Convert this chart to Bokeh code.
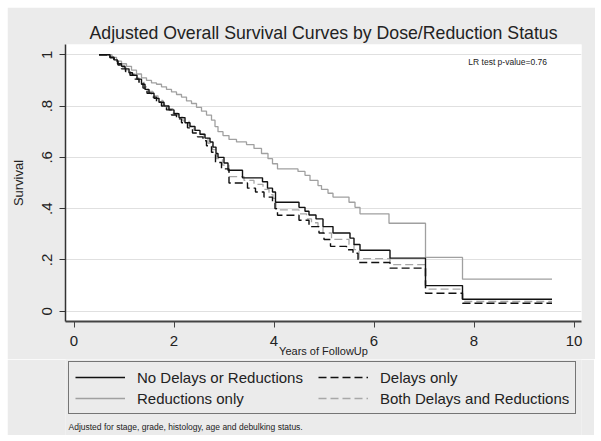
from bokeh.plotting import figure
from bokeh.layouts import column
from bokeh.models import Range1d, FixedTicker, Legend, LegendItem, Label
from bokeh.embed import file_html
from bokeh.resources import INLINE

# ---------------- data ----------------
title_text = "Adjusted Overall Survival Curves by Dose/Reduction Status"
x_ticks = [0, 2, 4, 6, 8, 10]
y_ticks = [0, 0.2, 0.4, 0.6, 0.8, 1.0]
y_tick_labels = ["0", ".2", ".4", ".6", ".8", "1"]

# No Delays or Reductions (black solid)
none_t = [0.50, 0.72, 0.80, 0.87, 0.95, 1.02, 1.10, 1.17, 1.26, 1.35, 1.42, 1.50, 1.60, 1.70,
          1.80, 1.90, 2.00, 2.10, 2.22, 2.32, 2.42, 2.52, 2.62, 2.72, 2.78, 2.84, 2.88, 3.00,
          3.08, 3.37, 3.77, 3.87, 3.97, 4.03, 4.50, 4.62, 4.70, 4.84, 4.98, 5.18, 5.52, 5.60,
          5.72, 6.32, 7.03, 7.77, 9.56]
none_s = [1.000, 0.990, 0.980, 0.965, 0.955, 0.945, 0.930, 0.920, 0.905, 0.885, 0.865, 0.850,
          0.830, 0.815, 0.800, 0.785, 0.770, 0.755, 0.735, 0.720, 0.705, 0.690, 0.675, 0.660,
          0.640, 0.615, 0.600, 0.578, 0.550, 0.520, 0.505, 0.480, 0.465, 0.425, 0.405, 0.390,
          0.375, 0.360, 0.330, 0.305, 0.285, 0.260, 0.238, 0.207, 0.100, 0.047, 0.047]

# Delays only (black dashed)
delay_t = [0.50, 0.72, 0.80, 0.88, 0.95, 1.03, 1.12, 1.20, 1.30, 1.38, 1.46, 1.55, 1.65, 1.75,
           1.85, 1.95, 2.05, 2.15, 2.27, 2.37, 2.47, 2.58, 2.65, 2.75, 2.83, 2.95, 3.10, 3.47,
           3.63, 3.80, 3.97, 4.02, 4.07, 4.50, 4.70, 4.90, 5.00, 5.13, 5.45, 5.58, 5.68, 6.32,
           7.03, 7.77, 9.56]
delay_s = [1.000, 0.988, 0.975, 0.960, 0.945, 0.935, 0.920, 0.905, 0.890, 0.870, 0.850, 0.835,
           0.815, 0.800, 0.785, 0.765, 0.750, 0.735, 0.715, 0.695, 0.680, 0.665, 0.645, 0.620,
           0.580, 0.555, 0.500, 0.480, 0.465, 0.445, 0.425, 0.400, 0.374, 0.355, 0.330, 0.305,
           0.280, 0.253, 0.240, 0.226, 0.190, 0.168, 0.070, 0.031, 0.031]

# Reductions only (gray solid)
red_t = [0.50, 0.76, 0.85, 0.95, 1.05, 1.15, 1.25, 1.35, 1.45, 1.55, 1.65, 1.75, 1.85, 1.95,
         2.05, 2.15, 2.25, 2.35, 2.45, 2.55, 2.65, 2.75, 2.82, 2.88, 2.98, 3.10, 3.25, 3.45,
         3.60, 3.75, 3.88, 3.97, 4.07, 4.48, 4.62, 4.72, 4.88, 4.95, 5.08, 5.18, 5.50, 5.62,
         5.72, 6.30, 7.03, 7.77, 9.56]
red_s = [1.000, 0.990, 0.975, 0.965, 0.955, 0.940, 0.925, 0.910, 0.900, 0.890, 0.885, 0.875,
         0.865, 0.855, 0.845, 0.835, 0.820, 0.810, 0.795, 0.780, 0.765, 0.745, 0.720, 0.700,
         0.685, 0.670, 0.660, 0.650, 0.635, 0.615, 0.595, 0.575, 0.555, 0.545, 0.530, 0.510,
         0.490, 0.475, 0.460, 0.445, 0.425, 0.405, 0.380, 0.343, 0.210, 0.125, 0.125]

# Both Delays and Reductions (gray dashed)
both_t = [0.50, 0.72, 0.80, 0.88, 0.96, 1.04, 1.13, 1.22, 1.30, 1.40, 1.48, 1.58, 1.68, 1.78,
          1.88, 1.98, 2.08, 2.18, 2.30, 2.40, 2.50, 2.60, 2.68, 2.77, 2.85, 2.97, 3.10, 3.40,
          3.60, 3.78, 3.90, 3.98, 4.04, 4.50, 4.65, 4.75, 4.88, 4.98, 5.15, 5.50, 5.60, 5.70,
          6.32, 7.03, 7.77, 9.56]
both_s = [1.000, 0.990, 0.978, 0.963, 0.950, 0.940, 0.925, 0.910, 0.895, 0.875, 0.857, 0.840,
          0.822, 0.806, 0.790, 0.772, 0.757, 0.742, 0.722, 0.705, 0.690, 0.674, 0.655, 0.630,
          0.595, 0.570, 0.525, 0.510, 0.495, 0.475, 0.455, 0.440, 0.395, 0.380, 0.360, 0.345,
          0.330, 0.305, 0.280, 0.260, 0.240, 0.205, 0.182, 0.086, 0.038, 0.038]

series_names = ["No Delays or Reductions", "Delays only", "Reductions only",
                "Both Delays and Reductions"]
series_t = [none_t, delay_t, red_t, both_t]
series_s = [none_s, delay_s, red_s, both_s]
footnote = "Adjusted for stage, grade, histology, age and debulking status."
lr_text = "LR test p-value=0.76"

# ---------------- styles ----------------
BG = "#ebebeb"
FONT = "Liberation Sans"
TXT = "#222222"
styles = [dict(line_color="#111111", line_width=1.4),
          dict(line_color="#111111", line_width=1.4, line_dash="8 4"),
          dict(line_color="#a0a0a0", line_width=1.3),
          dict(line_color="#a8a8a8", line_width=1.3, line_dash="8 4")]

# ---------------- main plot ----------------
p = figure(frame_width=516, frame_height=277, output_backend="svg", toolbar_location=None,
           x_range=Range1d(-0.17, 10.15), y_range=Range1d(-0.04, 1.04),
           min_border_left=57, min_border_right=14, min_border_top=37, min_border_bottom=37,
           background_fill_color="white", border_fill_color=BG, outline_line_color=None)
p.margin = (7, 7, 0, 7)

p.title.text = title_text
p.title.align = "center"
p.title.text_font = FONT
p.title.text_font_size = "17.7px"
p.title.text_font_style = "normal"
p.title.text_color = TXT
p.title.standoff = 4

xa = p.xaxis[0]
xa.ticker = FixedTicker(ticks=x_ticks)
xa.axis_label = "Years of FollowUp"
xa.axis_label_text_font = FONT
xa.axis_label_text_font_size = "11px"
xa.axis_label_text_font_style = "normal"
xa.axis_label_text_color = TXT
xa.axis_label_standoff = -4
xa.major_label_text_font = FONT
xa.major_label_text_font_size = "15px"
xa.major_label_text_color = TXT
xa.major_label_standoff = 8
xa.major_tick_out = 6
xa.major_tick_in = 0
xa.minor_tick_out = 0
xa.minor_tick_in = 0
xa.axis_line_width = 2
xa.axis_line_color = "#444444"
xa.major_tick_line_color = "#444444"

ya = p.yaxis[0]
ya.ticker = FixedTicker(ticks=y_ticks)
ya.major_label_overrides = {v: s for v, s in zip(y_ticks, y_tick_labels)}
ya.major_label_orientation = "vertical"
ya.axis_label = "Survival"
ya.axis_label_text_font = FONT
ya.axis_label_text_font_size = "13px"
ya.axis_label_text_font_style = "normal"
ya.axis_label_text_color = TXT
ya.axis_label_standoff = 14
ya.major_label_text_font = FONT
ya.major_label_text_font_size = "15px"
ya.major_label_text_color = TXT
ya.major_label_standoff = 7
ya.major_tick_out = 6
ya.major_tick_in = 0
ya.minor_tick_out = 0
ya.minor_tick_in = 0
ya.axis_line_width = 1.5
ya.axis_line_color = "#333333"
ya.major_tick_line_color = "#333333"

p.xgrid.visible = False
p.ygrid.ticker = FixedTicker(ticks=y_ticks)
p.ygrid.grid_line_color = "#e0e0e0"
p.ygrid.grid_line_width = 1

for i in [2, 3, 1, 0]:
    p.step(series_t[i], series_s[i], mode="after", **styles[i])

p.add_layout(Label(x=9.46, y=0.971, text=lr_text, text_align="right", text_baseline="middle",
                   text_font=FONT, text_font_size="8.5px", text_color=TXT))

# ---------------- legend + footnote strip (same frame columns as the plot) ----------------
# its ranges lie away from the data, so the series drawn here only serve as legend keys
q = figure(frame_width=516, frame_height=76, output_backend="svg", toolbar_location=None,
           x_range=Range1d(-20, -19), y_range=Range1d(-20, -19),
           min_border_left=57, min_border_right=14, min_border_top=0, min_border_bottom=0,
           background_fill_color=BG, border_fill_color=BG, outline_line_color=None)
q.margin = (0, 7, 7, 7)
q.axis.visible = False
q.grid.visible = False

keys = [q.step(series_t[i], series_s[i], mode="after", **styles[i]) for i in range(4)]

legend = Legend(items=[LegendItem(label=n, renderers=[r]) for n, r in zip(series_names, keys)],
                orientation="horizontal", ncols=2, location=(3, 21),
                border_line_color="black", border_line_width=1,
                background_fill_color=BG, background_fill_alpha=1,
                label_text_font=FONT, label_text_font_size="15px",
                label_text_color=TXT,
                glyph_width=50, glyph_height=18, label_height=18, label_width=178,
                label_standoff=12, spacing=3, padding=6, margin=0)
q.add_layout(legend, "center")

q.add_layout(Label(x=3, y=9, x_units="screen", y_units="screen", text=footnote,
                   text_align="left", text_baseline="middle",
                   text_font=FONT, text_font_size="8.5px", text_color=TXT))

layout = column(p, q, spacing=0)
open("out.html", "w").write(file_html(layout, INLINE))
